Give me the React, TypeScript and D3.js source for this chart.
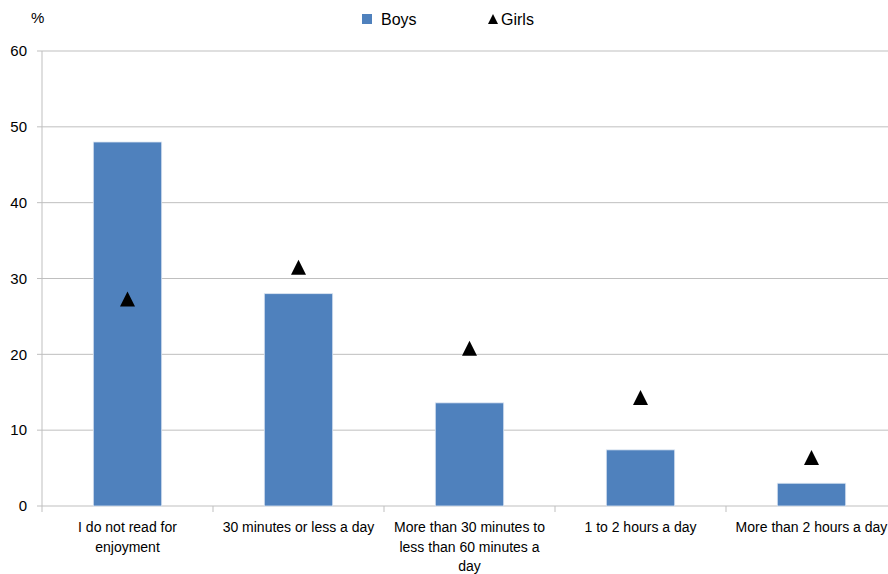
import React from "react";
import * as d3 from "d3";

const categories = [
  "I do not read for\nenjoyment",
  "30 minutes or less a day",
  "More than 30 minutes to\nless than 60 minutes a\nday",
  "1 to 2 hours a day",
  "More than 2 hours a day",
];
const boys = [48, 28, 13.6, 7.4, 3.0];
const girls = [27.2, 31.4, 20.7, 14.2, 6.3];
const yTicks = [0, 10, 20, 30, 40, 50, 60];

const W = 888;
const H = 574;
const FONT = "'Liberation Sans Narrow', sans-serif";

export default function App() {
  const left = 42;
  const right = 897;
  const top = 51;
  const bottom = 506;
  const x = d3.scaleBand<number>().domain(d3.range(categories.length)).range([left, right]).paddingInner(0).paddingOuter(0);
  const y = d3.scaleLinear().domain([0, 60]).range([bottom, top]);
  const bw = x.bandwidth();
  const barW = bw * 0.4;
  const tri = (cx: number, cy: number, s: number) =>
    `M${cx},${cy - s * 0.55} L${cx + s / 2},${cy + s * 0.45} L${cx - s / 2},${cy + s * 0.45} Z`;

  return (
    <svg width={W} height={H} style={{ position: "absolute", left: 0, top: 0, background: "#fff" }} fontFamily={FONT}>
      <rect width={W} height={H} fill="#fff" />
      {yTicks.filter((t) => t > 0).map((t) => (
        <line key={t} x1={left} x2={W} y1={y(t)} y2={y(t)} stroke="#bfbfbf" strokeWidth={1} />
      ))}
      {yTicks.map((t) => (
        <g key={"yt" + t}>
          <line x1={left - 5} x2={left} y1={y(t)} y2={y(t)} stroke="#bfbfbf" />
          <text x={27} y={y(t)} dy="0.35em" textAnchor="end" fontSize={15} fill="#000">
            {t}
          </text>
        </g>
      ))}
      <line x1={left} x2={left} y1={top} y2={bottom} stroke="#bfbfbf" />
      <line x1={left} x2={W} y1={bottom} y2={bottom} stroke="#bfbfbf" />
      {d3.range(categories.length + 1).map((i) => (
        <line key={"xt" + i} x1={left + i * bw} x2={left + i * bw} y1={bottom} y2={bottom + 6} stroke="#bfbfbf" />
      ))}
      <text x={31} y={23} fontSize={15} fill="#000">%</text>
      {boys.map((v, i) => (
        <rect
          key={"b" + i}
          x={(x(i) as number) + (bw - barW) / 2}
          y={y(v)}
          width={barW}
          height={bottom - y(v)}
          fill="#4f81bd"
          stroke="#dce6f2"
          strokeWidth={0.8}
        />
      ))}
      {girls.map((v, i) => (
        <path key={"g" + i} d={tri((x(i) as number) + bw / 2, y(v), 15)} fill="#000" />
      ))}
      {categories.map((c, i) => (
        <text key={"c" + i} x={(x(i) as number) + bw / 2} y={532} textAnchor="middle" fontSize={14} fill="#000">
          {c.split("\n").map((l, j) => (
            <tspan key={j} x={(x(i) as number) + bw / 2} dy={j === 0 ? 0 : 19.5}>
              {l}
            </tspan>
          ))}
        </text>
      ))}
      <rect x={362} y={14} width={10} height={10} fill="#4f81bd" />
      <text x={381} y={25} fontSize={16} fill="#000">Boys</text>
      <path d={tri(493, 19.5, 10)} fill="#000" />
      <text x={501} y={25} fontSize={16} fill="#000">Girls</text>
    </svg>
  );
}
